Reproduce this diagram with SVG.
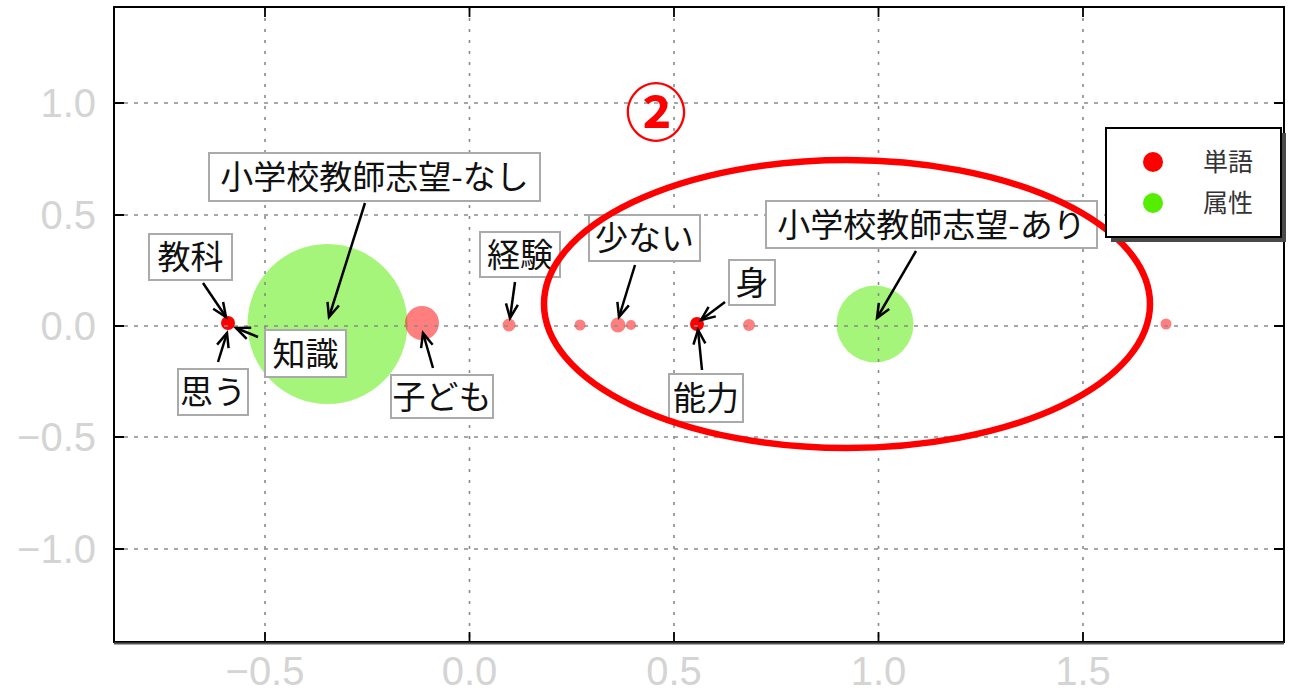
<svg xmlns="http://www.w3.org/2000/svg" width="1304" height="694" viewBox="0 0 1304 694">
<style>
.grid{stroke:#8a8a8a;stroke-width:1.6;fill:none}
.gh{stroke-dasharray:4,6}
.gv{stroke-dasharray:3,8}
.tick{stroke:#000;stroke-width:1.8}
.tl{font-family:"Liberation Sans",Arial,sans-serif;font-size:40px;fill:#d4d4d4}
.lbox{fill:#fff;stroke:#aaaaaa;stroke-width:2}
.lt{font-family:"Noto Sans CJK JP","Noto Sans CJK SC",sans-serif;font-size:33px;fill:#111;text-anchor:middle}
.arr{stroke:#000;stroke-width:2.5;fill:none;marker-end:url(#ah)}
.wl{fill:#ff0000;fill-opacity:0.5}
.ws{fill:#ff0000}
.attr{fill:#a6f57b}
.leg{font-family:"Noto Sans CJK JP","Noto Sans CJK SC",sans-serif;font-size:25px;fill:#333}
</style>
<defs>
<marker id="ah" markerUnits="userSpaceOnUse" markerWidth="18" markerHeight="16" refX="15" refY="8" orient="auto">
<path d="M1,2 L15,8 L1,14" fill="none" stroke="#000" stroke-width="2.5"/>
</marker>
</defs>
<rect x="0" y="0" width="1304" height="694" fill="#fff"/>

<g id="points">
<circle class="attr" cx="327.5" cy="324" r="80"/>
<circle class="attr" cx="875" cy="324" r="38.5"/>
<circle class="wl" cx="422" cy="323" r="17"/>
<circle class="wl" cx="509" cy="325" r="6.5"/>
<circle class="wl" cx="580" cy="325" r="5.5"/>
<circle class="wl" cx="618" cy="325" r="7.5"/>
<circle class="wl" cx="631" cy="325" r="5"/>
<circle class="wl" cx="749" cy="325" r="6"/>
<circle class="wl" cx="1166" cy="324" r="5.5"/>
<circle class="ws" cx="228" cy="323" r="7"/>
<circle class="ws" cx="697" cy="324" r="7"/>
</g>

<g id="grid">
<line class="grid gh" x1="114" y1="103" x2="1284" y2="103"/>
<line class="grid gh" x1="114" y1="215" x2="1284" y2="215"/>
<line class="grid gh" x1="114" y1="326" x2="1284" y2="326"/>
<line class="grid gh" x1="114" y1="437" x2="1284" y2="437"/>
<line class="grid gh" x1="114" y1="549" x2="1284" y2="549"/>
<line class="grid gv" x1="265" y1="7" x2="265" y2="642"/>
<line class="grid gv" x1="469.5" y1="7" x2="469.5" y2="642"/>
<line class="grid gv" x1="674" y1="7" x2="674" y2="642"/>
<line class="grid gv" x1="878.5" y1="7" x2="878.5" y2="642"/>
<line class="grid gv" x1="1083" y1="7" x2="1083" y2="642"/>
</g>

<g id="axes">
<rect x="114" y="7" width="1170" height="635" fill="none" stroke="#000" stroke-width="2"/>
<line x1="114" y1="643.5" x2="1284" y2="643.5" stroke="#555" stroke-width="2"/>
<path class="tick" d="M114,103h10M114,215h10M114,326h10M114,437h10M114,549h10M1284,103h-10M1284,215h-10M1284,326h-10M1284,437h-10M1284,549h-10M265,642v-10M469.5,642v-10M674,642v-10M878.5,642v-10M1083,642v-10M265,7v10M469.5,7v10M674,7v10M878.5,7v10M1083,7v10"/>
<text class="tl" x="96" y="117" text-anchor="end">1.0</text>
<text class="tl" x="96" y="229" text-anchor="end">0.5</text>
<text class="tl" x="96" y="340" text-anchor="end">0.0</text>
<text class="tl" x="96" y="451" text-anchor="end">−0.5</text>
<text class="tl" x="96" y="563" text-anchor="end">−1.0</text>
<text class="tl" x="265" y="685" text-anchor="middle">−0.5</text>
<text class="tl" x="469.5" y="685" text-anchor="middle">0.0</text>
<text class="tl" x="674" y="685" text-anchor="middle">0.5</text>
<text class="tl" x="878.5" y="685" text-anchor="middle">1.0</text>
<text class="tl" x="1083" y="685" text-anchor="middle">1.5</text>
</g>

<g id="connectors">
<line class="arr" x1="365" y1="203" x2="329" y2="317"/>
<line class="arr" x1="203" y1="283" x2="226" y2="317"/>
<line class="arr" x1="218" y1="362" x2="227" y2="333"/>
<line class="arr" x1="258" y1="337" x2="236" y2="328"/>
<line class="arr" x1="433" y1="368" x2="423" y2="333"/>
<line class="arr" x1="515" y1="282" x2="510" y2="318"/>
<line class="arr" x1="635" y1="265" x2="619" y2="317"/>
<line class="arr" x1="725" y1="302" x2="701" y2="320"/>
<line class="arr" x1="702" y1="370" x2="698" y2="330"/>
<line class="arr" x1="916" y1="251" x2="877" y2="318"/>
</g>

<g id="label-nashi"><rect class="lbox" x="209" y="153" width="331" height="48"/><text class="lt" x="374.5" y="189">小学校教師志望-なし</text></g>
<g id="label-kyouka"><rect class="lbox" x="149" y="234" width="83" height="46"/><text class="lt" x="190.5" y="269">教科</text></g>
<g id="label-omou"><rect class="lbox" x="178" y="369" width="70" height="46"/><text class="lt" x="213" y="404">思う</text></g>
<g id="label-chishiki"><rect class="lbox" x="265" y="330" width="81" height="47"/><text class="lt" x="305.5" y="365.5">知識</text></g>
<g id="label-kodomo"><rect class="lbox" x="391" y="375" width="102" height="43"/><text class="lt" x="442" y="408.5">子ども</text></g>
<g id="label-keiken"><rect class="lbox" x="480" y="232" width="80" height="45"/><text class="lt" x="520" y="266.5">経験</text></g>
<g id="label-sukunai"><rect class="lbox" x="589" y="215" width="111" height="46"/><text class="lt" x="644.5" y="250">少ない</text></g>
<g id="label-mi"><rect class="lbox" x="729" y="260" width="46" height="45"/><text class="lt" x="752" y="294.5">身</text></g>
<g id="label-nouryoku"><rect class="lbox" x="669" y="374" width="74" height="48"/><text class="lt" x="706" y="410">能力</text></g>
<g id="label-ari"><rect class="lbox" x="766" y="201" width="331" height="47"/><text class="lt" x="931.5" y="236.5">小学校教師志望-あり</text></g>

<g id="highlight">
<ellipse cx="847" cy="304" rx="303" ry="144" fill="none" stroke="#ff0000" stroke-width="6.5"/>
<text x="656" y="136" text-anchor="middle" font-family="Noto Sans CJK JP, sans-serif" font-size="62" font-weight="700" fill="#ff0000">②</text>
</g>

<g id="legend">
<rect x="1111" y="133" width="175" height="109" fill="#4a4a4a"/>
<rect x="1106" y="128" width="175" height="109" fill="#fff" stroke="#000" stroke-width="2"/>
<circle cx="1153" cy="162" r="10" fill="#ff0000"/>
<circle cx="1153" cy="203" r="10" fill="#55ee00"/>
<text class="leg" x="1203" y="171">単語</text>
<text class="leg" x="1203" y="212">属性</text>
</g>
</svg>
